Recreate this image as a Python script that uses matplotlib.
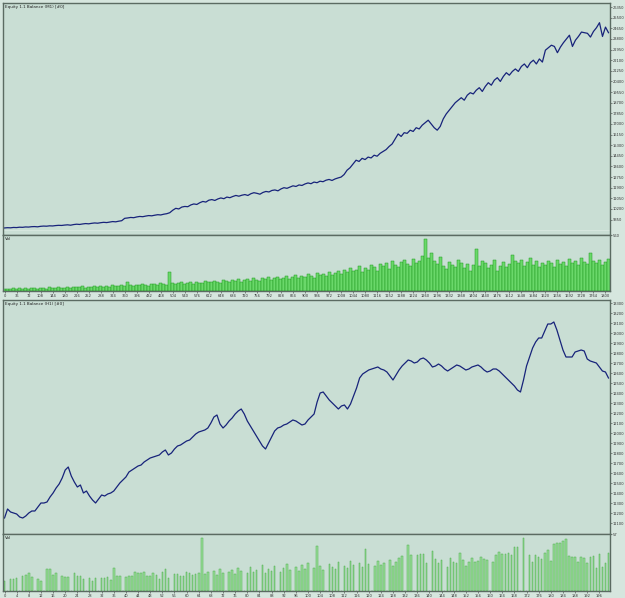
import numpy as np
import matplotlib
matplotlib.use("Agg")
import matplotlib.pyplot as plt
from matplotlib.ticker import MultipleLocator, FuncFormatter


# Datos (panel superior: cada punto = 9 barras)
precio_sup = [
    8680, 8700, 8690, 8720, 8710, 8740, 8730, 8760, 8750, 8780,
    8790, 8770, 8810, 8830, 8820, 8850, 8840, 8870, 8890, 8880,
    8910, 8930, 8900, 8950, 8980, 8960, 9000, 9030, 9010, 9050,
    9080, 9060, 9100, 9130, 9110, 9150, 9190, 9170, 9220, 9260,
    9450, 9480, 9520, 9500, 9560, 9600, 9580, 9630, 9670, 9650,
    9700, 9740, 9720, 9780, 9820, 9900, 10100, 10250, 10200, 10350,
    10400, 10380, 10520, 10600, 10560, 10700, 10800, 10750, 10900, 10950,
    10880, 11000, 11080, 11020, 11150, 11100, 11200, 11280, 11220, 11300,
    11350, 11280, 11420, 11500, 11450, 11380, 11520, 11600, 11560, 11680,
    11720, 11650, 11800, 11900, 11850, 11950, 12050, 12000, 12120, 12080,
    12200, 12280, 12220, 12350, 12300, 12420, 12380, 12500, 12560, 12480,
    12600, 12680, 12750, 12950, 13300, 13500, 13800, 14100, 14000, 14250,
    14150, 14350, 14280, 14500, 14420, 14650, 14800, 14950, 15200, 15400,
    15800, 16200, 16000, 16300, 16250, 16500, 16400, 16700, 16600, 16900,
    17100, 17300, 17000, 16700, 16500, 16800, 17400, 17800, 18100, 18400,
    18700, 18900, 19100, 18900, 19300, 19500, 19400, 19700, 19900, 19600,
    20000, 20300, 20100, 20500, 20700, 20400, 20800, 21100, 20900, 21200,
    21400, 21200, 21600, 21800, 21500, 21900, 22100, 21800, 22200, 21950,
    22900, 23100, 23300, 23200, 22700, 23150, 23500, 23800, 24100, 23200,
    23700, 24000, 24350, 24300, 24250, 23950, 24400, 24700, 25100, 24000,
    24750, 24300,
]
volumen_sup = [
    20, 25, 18, 30, 22, 28, 20, 35, 25, 30, 28, 22, 35, 30, 25, 40, 32, 28, 38, 30,
    35, 42, 30, 45, 38, 40, 50, 35, 45, 42, 48, 40, 55, 45, 50, 42, 58, 48, 52, 60,
    55, 90, 60, 52, 65, 58, 70, 62, 55, 75, 68, 60, 80, 72, 65, 190, 85, 70, 78, 88,
    75, 82, 90, 70, 95, 85, 80, 100, 88, 92, 105, 95, 85, 110, 98, 90, 115, 100, 120, 95,
    110, 125, 105, 130, 115, 100, 135, 120, 140, 112, 128, 145, 118, 135, 150, 125, 140, 160, 130, 155,
    145, 170, 150, 135, 180, 160, 175, 150, 190, 165, 185, 200, 170, 210, 190, 230, 200, 215, 250, 195,
    230, 210, 260, 240, 200, 270, 250, 280, 220, 300, 260, 240, 290, 310, 270, 250, 320, 280, 300, 350,
    520, 330, 380, 300, 270, 340, 250, 220, 290, 260, 240, 310, 280, 230, 270, 200, 260, 420, 250, 300,
    280, 230, 260, 310, 200, 250, 290, 240, 270, 360, 300, 280, 310, 250, 290, 330, 260, 300, 240, 280,
    260, 300, 280, 240, 310, 270, 290, 250, 320, 280, 300, 260, 330, 290, 270, 380, 300, 280, 310, 260,
    290, 320,
]
paso_barras_sup = 9

# Panel inferior: una barra por punto
precio_inf = [
    11150, 11240, 11210, 11200, 11190, 11160, 11150, 11170, 11200, 11220,
    11220, 11260, 11300, 11300, 11310, 11360, 11400, 11450, 11490, 11550,
    11630, 11660, 11570, 11510, 11460, 11480, 11400, 11420, 11370, 11330,
    11300, 11340, 11380, 11370, 11390, 11400, 11420, 11460, 11500, 11530,
    11560, 11610, 11630, 11650, 11670, 11680, 11710, 11730, 11750, 11760,
    11770, 11780, 11810, 11830, 11780, 11800, 11840, 11870, 11880, 11900,
    11920, 11930, 11960, 11990, 12010, 12020, 12030, 12050, 12100, 12160,
    12180, 12090, 12050, 12080, 12120, 12150, 12190, 12220, 12240, 12190,
    12120, 12070, 12020, 11970, 11920, 11870, 11840, 11900, 11960, 12020,
    12050, 12060, 12080, 12090, 12110, 12130, 12120, 12100, 12080, 12090,
    12130, 12160, 12190, 12310, 12400, 12410, 12370, 12330, 12300, 12270,
    12240, 12270, 12280, 12240, 12290, 12370, 12450, 12550, 12590, 12610,
    12630, 12640, 12650, 12660, 12640, 12630, 12610, 12570, 12530, 12580,
    12630, 12670, 12700, 12730, 12720, 12700, 12710, 12740, 12750, 12730,
    12700, 12660, 12670, 12690, 12670, 12640, 12620, 12640, 12660, 12680,
    12670, 12650, 12630, 12640, 12660, 12670, 12680, 12660, 12630, 12610,
    12620, 12640, 12640, 12620, 12590, 12560, 12530, 12500, 12470, 12430,
    12410, 12530, 12670, 12760, 12850, 12910, 12950, 12950, 13020, 13090,
    13090, 13110, 13030, 12930, 12830, 12760, 12760, 12760, 12810, 12820,
    12830, 12820, 12740, 12720, 12710, 12700, 12660, 12620, 12610, 12550,
]
volumen_inf = [
    10, 0, 12, 12, 13, 0, 15, 16, 18, 14, 0, 12, 10, 0, 22, 22, 16, 18, 0, 15,
    14, 14, 0, 18, 15, 15, 12, 0, 13, 10, 13, 0, 13, 13, 14, 11, 23, 15, 15, 0,
    14, 15, 15, 19, 18, 18, 19, 15, 15, 18, 16, 12, 19, 22, 13, 0, 17, 17, 15, 15,
    19, 18, 16, 17, 18, 53,
    17, 19, 0, 20, 16, 22, 18, 0, 19, 21, 17, 23, 20, 0, 18, 24, 19, 21, 0, 26,
    18, 22, 20, 25, 0, 19, 23, 27, 21, 0, 24, 20, 26, 22, 28, 0, 23, 45, 25, 21,
    0, 27, 24, 22, 29, 0, 25, 23, 30, 26, 0, 28, 24, 42, 27, 0, 25, 30, 26, 28,
    0, 31, 25, 29, 33,
    35, 0, 46, 36, 0, 36, 37, 37, 28, 0, 40, 32, 28, 31, 0, 24, 33, 29, 28, 38,
    31, 25, 29, 33, 29, 30, 34, 32, 31, 0, 29, 36, 39, 37, 37, 38, 36, 44, 44, 0,
    53, 0, 36, 29, 36, 34, 32, 38, 41, 30, 47, 48, 48, 50, 52, 35, 34, 34, 29, 34,
    33, 28, 34, 35, 23, 37, 24, 28, 38,
]

titulo_sup = "Equity 1.1 Balance (M1) [#0]"
titulo_inf = "Equity 1.1 Balance (H1) [#0]"
etiqueta_vol = "Vol"

# Colores
fondo_fig = '#d6e6de'
fondo_panel = '#c9ded4'
color_grid = '#d9e8e1'
color_borde = '#5b6b62'
color_linea = '#17237a'


def estilo_panel(ax):
    ax.set_facecolor(fondo_panel)
    for s in ax.spines.values():
        s.set_color(color_borde)
        s.set_linewidth(1.0)
    ax.yaxis.tick_right()
    ax.tick_params(axis='both', labelsize=2.6, colors='#333333', length=1.2,
                   width=0.4, pad=0.8)
    ax.tick_params(which='minor', length=0)
    ax.grid(which='minor', color=color_grid, linewidth=0.6)
    ax.set_axisbelow(True)


def panel_precio(ax, precio, ymin, ymax, paso_y, titulo, n_slots):
    x = np.arange(len(precio))
    ax.plot(x, precio, color=color_linea, linewidth=0.9)
    ax.set_xlim(-0.5, n_slots - 0.5)
    ax.set_ylim(ymin, ymax)
    # sin etiqueta pegada al borde inferior (ahi va la del volumen)
    marcas = np.arange(np.ceil(ymin / paso_y) * paso_y, ymax + 1, paso_y)
    marcas = [m for m in marcas if m - ymin > 0.8 * paso_y]
    ax.set_yticks(marcas)
    ax.yaxis.set_minor_locator(MultipleLocator(paso_y * 2))
    ax.yaxis.set_major_formatter(FuncFormatter(lambda v, p: f"{int(v)}"))
    ax.xaxis.set_major_locator(MultipleLocator(4))
    ax.xaxis.set_minor_locator(MultipleLocator(8))
    estilo_panel(ax)
    ax.tick_params(axis='x', labelbottom=False, length=0)
    ax.text(0.004, 0.992, titulo, transform=ax.transAxes, fontsize=3.0,
            va='top', ha='left', color='#222222')


def panel_volumen(ax, volumen, vmax, n_slots, ancho, cara, borde, factor_x):
    x = np.arange(len(volumen))
    ax.bar(x, volumen, width=ancho, color=cara, edgecolor=borde, linewidth=0.35)
    ax.set_xlim(-0.5, n_slots - 0.5)
    ax.set_ylim(0, vmax)
    ax.set_yticks([vmax])
    ax.yaxis.set_major_formatter(FuncFormatter(lambda v, p: f"{int(v)}"))
    ax.xaxis.set_major_locator(MultipleLocator(4))
    ax.xaxis.set_minor_locator(MultipleLocator(8))
    ax.xaxis.set_major_formatter(FuncFormatter(lambda v, p: f"{int(v * factor_x)}"))
    estilo_panel(ax)
    ax.grid(False, axis='y', which='both')
    ax.text(0.004, 0.97, etiqueta_vol, transform=ax.transAxes, fontsize=3.0,
            va='top', ha='left', color='#222222')


fig = plt.figure(figsize=(6.25, 5.98), dpi=100, facecolor=fondo_fig)

W, H = 625.0, 598.0
def caja(x0, y0, x1, y1):
    return [x0 / W, 1 - y1 / H, (x1 - x0) / W, (y1 - y0) / H]

ax1 = fig.add_axes(caja(3, 3, 610, 235))
ax2 = fig.add_axes(caja(3, 235, 610, 291))
ax3 = fig.add_axes(caja(3, 300, 610, 534))
ax4 = fig.add_axes(caja(3, 534, 610, 591))

panel_precio(ax1, precio_sup, 8116, 26676, 850, titulo_sup, len(precio_sup))
panel_volumen(ax2, volumen_sup, 560, len(volumen_sup), 1.0,
              '#6ad86a', '#1e9a1e', paso_barras_sup)

panel_precio(ax3, precio_inf, 10990, 13330, 100, titulo_inf, len(precio_inf))
panel_volumen(ax4, volumen_inf, 57, len(volumen_inf), 0.5,
              '#9adc9a', '#4caf4c', 1)

fig.savefig("out.png", dpi=100, facecolor=fondo_fig)
